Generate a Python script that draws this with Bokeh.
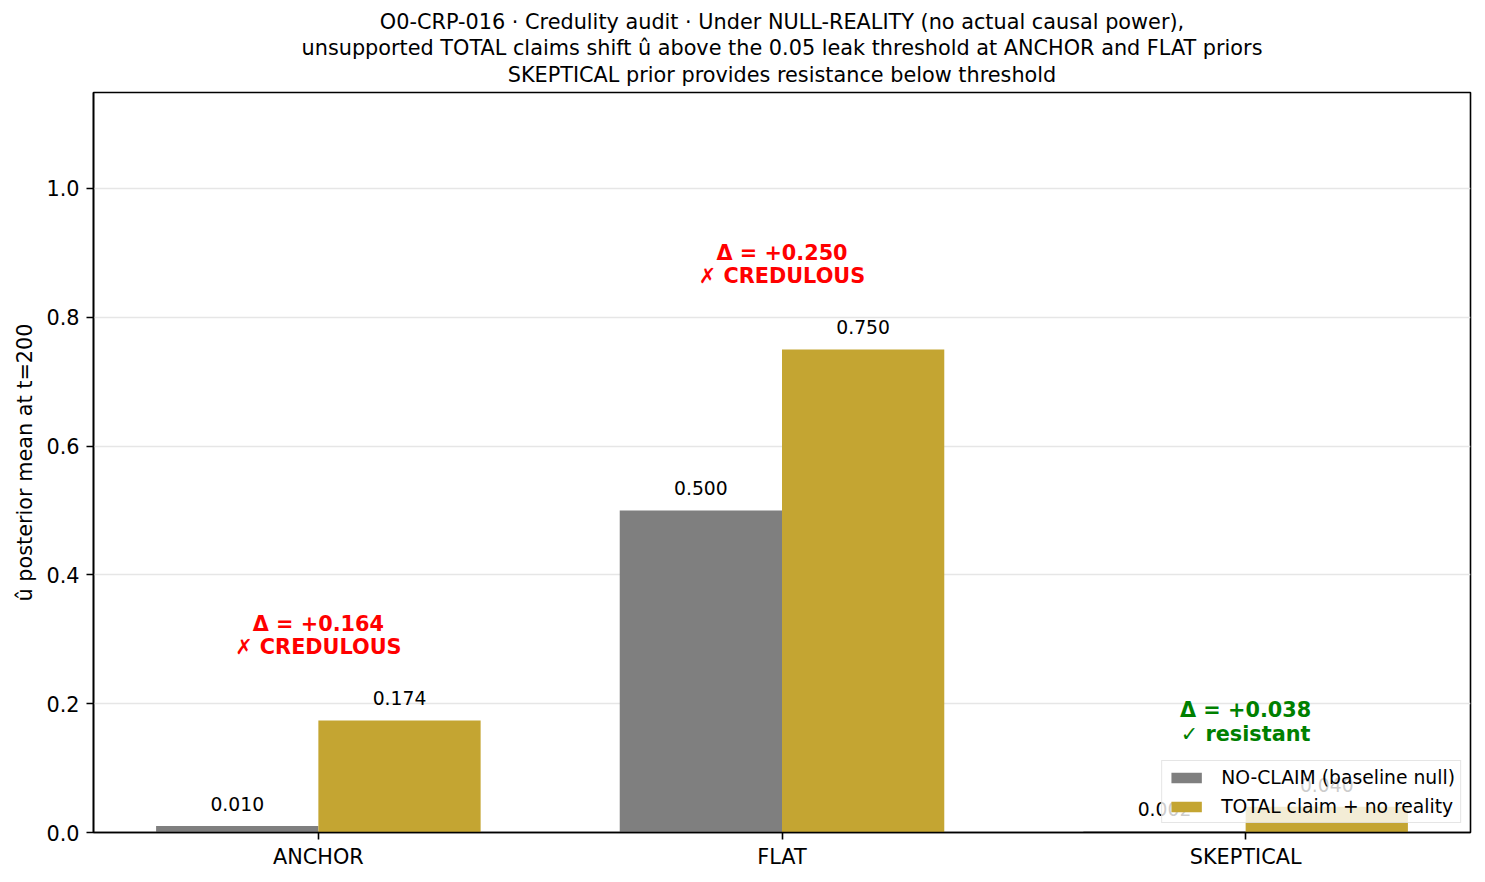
from bokeh.plotting import figure
from bokeh.models import ColumnDataSource, Range1d, FixedTicker, PrintfTickFormatter, Title
from bokeh.transform import dodge
from bokeh.embed import file_html
from bokeh.resources import INLINE
from bokeh.core.properties import value

categories = ["ANCHOR", "FLAT", "SKEPTICAL"]
no_claim = [0.010, 0.500, 0.002]
total_claim = [0.174, 0.750, 0.040]
deltas = [0.164, 0.250, 0.038]
verdicts = ["✗ CREDULOUS", "✗ CREDULOUS", "✓ resistant"]
verdict_colors = ["red", "red", "green"]
series_names = ["NO-CLAIM (baseline null)", "TOTAL claim + no reality"]
series_colors = ["#7f7f7f", "#c4a532"]
y_ticks = [0.0, 0.2, 0.4, 0.6, 0.8, 1.0]
title_lines = [
    "O0-CRP-016 · Credulity audit · Under NULL-REALITY (no actual causal power),",
    "unsupported TOTAL claims shift û above the 0.05 leak threshold at ANCHOR and FLAT priors",
    "SKEPTICAL prior provides resistance below threshold",
]
y_label = "û posterior mean at t=200"

FONT = "DejaVu Sans"
W, H = 1478, 874
BL, BR, BT, BB = 93, 8, 92, 42
idx = list(range(len(categories)))
src = ColumnDataSource(dict(
    x=idx,
    no_claim=no_claim,
    total=total_claim,
    no_lbl=[f"{v:.3f}" for v in no_claim],
    tot_lbl=[f"{v:.3f}" for v in total_claim],
    top=[max(a, b) for a, b in zip(no_claim, total_claim)],
    ann=[f"Δ = {d:+.3f}\n{v}" for d, v in zip(deltas, verdicts)],
    ann_color=verdict_colors,
))

p = figure(width=W, height=H, x_range=Range1d(-0.485, 2.485), y_range=Range1d(0, 1.149),
           output_backend="svg", toolbar_location=None, title=None,
           min_border_left=BL, min_border_right=BR, min_border_top=BT, min_border_bottom=BB)
p.background_fill_color = "white"
p.border_fill_color = "white"
p.outline_line_color = "black"
p.outline_line_width = 1.6

bw = 0.35
p.vbar(x=dodge("x", -bw / 2), top="no_claim", width=bw, source=src,
       fill_color=series_colors[0], line_color=None, legend_label=series_names[0])
p.vbar(x=dodge("x", bw / 2), top="total", width=bw, source=src,
       fill_color=series_colors[1], line_color=None, legend_label=series_names[1])

p.text(x=dodge("x", -bw / 2), y="no_claim", text="no_lbl", source=src, text_align="center",
       text_baseline="alphabetic", y_offset=-22, text_font_size="18.75px",
       text_font=value(FONT), text_color="black")
p.text(x=dodge("x", bw / 2), y="total", text="tot_lbl", source=src, text_align="center",
       text_baseline="alphabetic", y_offset=-22, text_font_size="18.75px",
       text_font=value(FONT), text_color="black")

p.text(x="x", y="top", text="ann", source=src, text_align="center", text_baseline="bottom",
       y_offset=-61, text_font_size="20.8px", text_font=value(FONT), text_font_style="bold",
       text_color="ann_color", text_line_height=0.98)

# axes
p.xaxis.ticker = FixedTicker(ticks=idx)
p.xaxis.major_label_overrides = {i: c for i, c in zip(idx, categories)}
p.yaxis.ticker = FixedTicker(ticks=y_ticks)
p.yaxis.formatter = PrintfTickFormatter(format="%.1f")
for ax in (p.xaxis, p.yaxis):
    ax.minor_tick_line_color = None
    ax.major_tick_in = 0
    ax.major_tick_out = 7
    ax.major_tick_line_width = 1.6
    ax.major_tick_line_color = "black"
    ax.axis_line_color = "black"
    ax.axis_line_width = 1.6
    ax.major_label_text_font_size = "20.8px"
    ax.major_label_text_font = FONT
    ax.major_label_text_color = "black"
p.xaxis.major_label_standoff = 5
p.yaxis.major_label_standoff = 7
p.yaxis.axis_label = y_label
p.yaxis.axis_label_text_font = FONT
p.yaxis.axis_label_text_font_size = "20.8px"
p.yaxis.axis_label_text_font_style = "normal"
p.yaxis.axis_label_text_color = "black"
p.yaxis.axis_label_standoff = 6

p.xgrid.grid_line_color = None
p.ygrid.grid_line_color = "#e6e6e6"
p.ygrid.grid_line_width = 1.3

# legend
lg = p.legend[0]
lg.location = "bottom_right"
lg.margin = 9
lg.padding = 5
lg.spacing = 7
lg.glyph_width = 38
lg.glyph_height = 13
lg.label_standoff = 16
lg.label_height = 22
lg.label_text_font = FONT
lg.label_text_font_size = "18.75px"
lg.label_text_color = "black"
lg.border_line_color = "#cccccc"
lg.border_line_width = 1.2
lg.background_fill_color = "white"
lg.background_fill_alpha = 0.8

# three centred title lines, added from the frame outward
for k, (line, s) in enumerate(zip(reversed(title_lines), [7, 0, 0])):
    p.add_layout(Title(text=line, align="center", text_font_size="20.8px", text_font=FONT,
                       text_font_style="normal", text_color="black", standoff=s,
                       vertical_align="top" if k == 0 else "bottom"), "above")

open("out.html", "w").write(file_html(p, INLINE))
